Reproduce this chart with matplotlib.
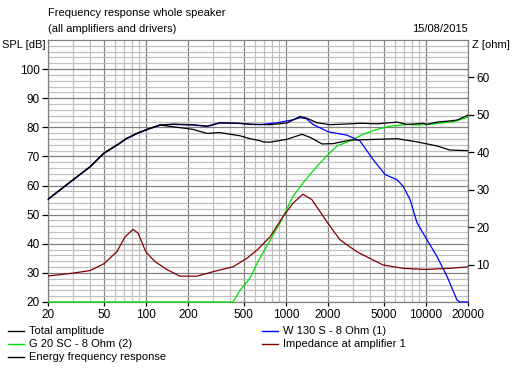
import numpy as np
import matplotlib
matplotlib.use("Agg")
import matplotlib.pyplot as plt
from matplotlib.lines import Line2D
from matplotlib.ticker import FixedLocator, NullFormatter

plt.rcParams['font.family'] = ['Liberation Sans Narrow', 'Liberation Sans', 'DejaVu Sans']
plt.rcParams['font.size'] = 8

# --- data ---
total_f = [20, 30, 40, 50, 62, 73, 86, 102, 126, 156, 217, 274, 338, 470, 555, 654, 771,
           1019, 1262, 1400, 1668, 2066, 2872, 3386, 4500, 6222, 7330, 8650, 9550, 10180,
           12020, 14860, 16680, 20000]
total_spl = [55.3, 61.9, 66.5, 71.1, 73.9, 76.2, 77.9, 79.3, 80.8, 81.1, 80.9, 80.4, 81.6, 81.4,
             81.0, 81.0, 80.9, 81.5, 83.7, 83.2, 81.6, 80.9, 81.2, 81.4, 81.2, 81.8, 81.0, 81.2,
             81.4, 81.0, 81.8, 82.2, 82.5, 84.2]

energy_f = [20, 30, 40, 50, 62, 73, 86, 102, 126, 156, 217, 274, 338, 470, 555, 654, 687, 771,
            1019, 1304, 1500, 1812, 2172, 2872, 6222, 8650, 12020, 14860, 20000]
energy_spl = [55.3, 61.9, 66.5, 71.1, 73.9, 76.2, 77.9, 79.3, 80.8, 80.2, 79.3, 77.9, 78.2, 77.1,
              76.1, 75.4, 75.0, 74.9, 75.9, 77.6, 76.5, 74.3, 74.4, 75.6, 76.1, 75.0, 73.6, 72.2, 72.0]

woofer_f = [20, 30, 40, 50, 62, 73, 86, 102, 126, 156, 217, 274, 338, 470, 654, 870, 1100, 1262,
            1400, 1563, 2000, 2735, 3386, 4190, 5108, 6222, 6870, 7710, 8650, 10180, 12020, 14200,
            16680, 17500, 20000]
woofer_spl = [55.2, 61.8, 66.4, 71.0, 73.8, 76.1, 77.8, 79.2, 80.7, 81.0, 80.8, 80.3, 81.5, 81.3,
              80.9, 81.6, 82.5, 83.3, 83.0, 81.0, 78.5, 77.3, 75.3, 69.0, 63.8, 62.0, 59.8, 55.2,
              47.2, 41.4, 35.6, 28.7, 20.7, 20.0, 20.0]

tweeter_f = [20, 419, 470, 555, 632, 908, 1125, 1325, 1668, 1950, 2318, 2872, 3557, 4478, 5545,
             6535, 7330, 9000, 12000, 16000, 20000]
tweeter_spl = [20.0, 20.0, 24.0, 28.2, 33.9, 47.1, 56.3, 60.9, 66.6, 70.1, 73.6, 75.3, 77.6, 79.3,
               80.4, 80.7, 81.0, 80.8, 81.3, 82.0, 83.5]

imp_f = [20, 30, 40, 50, 62, 71, 81, 88, 100, 116, 141, 175, 232, 302, 419, 528, 632, 771, 954,
         1125, 1325, 1538, 2000, 2438, 3222, 4945, 6870, 10000, 14860, 20000]
imp_ohm = [6.95, 7.7, 8.4, 10.2, 13.4, 17.4, 19.4, 18.4, 13.4, 10.8, 8.7, 6.9, 6.9, 8.1, 9.4, 11.7,
           14.1, 17.4, 22.8, 26.4, 28.8, 27.3, 21.0, 16.6, 13.4, 9.9, 9.0, 8.7, 9.0, 9.4]

freq_ticks = [20, 50, 100, 200, 500, 1000, 2000, 5000, 10000, 20000]
spl_ticks = [20, 30, 40, 50, 60, 70, 80, 90, 100]
z_ticks = [10, 20, 30, 40, 50, 60]

legend_items = [
    ("Total amplitude", "black", 8, 331),
    ("G 20 SC - 8 Ohm (2)", "#00e000", 8, 344),
    ("Energy frequency response", "black", 8, 357),
    ("W 130 S - 8 Ohm (1)", "#0000ff", 262, 331),
    ("Impedance at amplifier 1", "#800000", 262, 344),
]

W, H = 516, 368
fig = plt.figure(figsize=(W / 100, H / 100), dpi=100)
fig.patch.set_facecolor("white")

ax = fig.add_axes([48 / W, (H - 302) / H, 420 / W, 262 / H])
ax.set_xscale("log")
ax.set_xlim(20, 20000)
ax.set_ylim(20, 110)

minor_f = [m * d for d in (10, 100, 1000, 10000) for m in range(1, 10)
           if 20 < m * d < 20000 and m * d not in freq_ticks]
ax.xaxis.set_major_locator(FixedLocator(freq_ticks))
ax.xaxis.set_minor_locator(FixedLocator(minor_f))
ax.xaxis.set_minor_formatter(NullFormatter())
ax.set_xticklabels([str(f) for f in freq_ticks])
ax.yaxis.set_major_locator(FixedLocator(spl_ticks))
ax.yaxis.set_minor_locator(FixedLocator(np.arange(22, 110, 2)))
ax.yaxis.set_minor_formatter(NullFormatter())

ax.grid(which="minor", color="#c0c0c0", linewidth=0.9)
ax.grid(which="major", color="#808080", linewidth=0.9)
ax.set_axisbelow(True)
ax.tick_params(which="minor", length=0)
ax.tick_params(which="major", length=4, width=0.9, color="black", direction="out", pad=2,
               labelsize=8.5)
ax.tick_params(axis="x", length=3)
for s in ax.spines.values():
    s.set_color("#808080")
    s.set_linewidth(0.9)

ax2 = ax.twinx()
ax2.set_ylim(0, 70)
ax2.yaxis.set_major_locator(FixedLocator(z_ticks))
ax2.tick_params(length=4, width=0.9, direction="out", pad=2, labelsize=8.5)
for s in ax2.spines.values():
    s.set_visible(False)

lw = 0.9
ax.plot(tweeter_f, tweeter_spl, color="#00e000", lw=lw, clip_on=False, zorder=3)
ax.plot(woofer_f, woofer_spl, color="#0000ff", lw=lw, clip_on=False, zorder=3)
ax.plot(energy_f, energy_spl, color="black", lw=lw, zorder=3)
ax.plot(total_f, total_spl, color="black", lw=lw, zorder=3)
ax2.plot(imp_f, imp_ohm, color="#800000", lw=lw, zorder=3)

fig.text(48 / W, 1 - 13 / H, "Frequency response whole speaker", ha="left", va="center", fontsize=8)
fig.text(48 / W, 1 - 29 / H, "(all amplifiers and drivers)", ha="left", va="center", fontsize=8)
fig.text(468 / W, 1 - 29 / H, "15/08/2015", ha="right", va="center", fontsize=8)
fig.text(2 / W, 1 - 45 / H, "SPL [dB]", ha="left", va="center", fontsize=8)
fig.text(472 / W, 1 - 45 / H, "Z [ohm]", ha="left", va="center", fontsize=8)

for label, color, x0, y0 in legend_items:
    fig.add_artist(Line2D([x0 / W, (x0 + 16) / W], [1 - y0 / H, 1 - y0 / H],
                          color=color, lw=1, transform=fig.transFigure))
    fig.text((x0 + 21) / W, 1 - y0 / H, label, ha="left", va="center", fontsize=8)

fig.savefig("out.png", dpi=100)
